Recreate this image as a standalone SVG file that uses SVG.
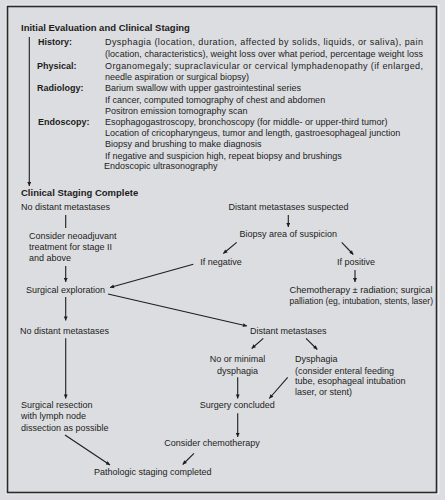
<svg xmlns="http://www.w3.org/2000/svg" width="445" height="500" viewBox="0 0 445 500">
<defs>
<marker id="ah" viewBox="0 0 10 10" refX="10" refY="5" markerWidth="5" markerHeight="4" orient="auto" markerUnits="userSpaceOnUse">
<path d="M0,0 L10,5 L0,10 z" fill="#1e1e1e"/>
</marker>
</defs>
<style>
text{font-family:"Liberation Sans",Arial,Helvetica,sans-serif;font-size:9px;fill:#1c1c1c}
.h{font-weight:bold;font-size:9.5px}
.lb{font-weight:bold;font-size:9px}
.c{text-anchor:middle}
.cn line{stroke:#1e1e1e;stroke-width:1.1}
.ar{marker-end:url(#ah)}
</style>
<rect x="0" y="0" width="445" height="500" fill="#dcdde0"/>
<rect x="6.2" y="5.2" width="432.6" height="488.6" fill="none" stroke="#f4f4f4" stroke-width="1"/>
<rect x="7.5" y="6.5" width="429" height="486" fill="none" stroke="#2a2a2a" stroke-width="1.6"/>

<g id="initial-evaluation">
<text class="h" x="21" y="31">Initial Evaluation and Clinical Staging</text>
<text class="lb" x="38" y="45">History:</text>
<text x="105" y="45" textLength="318" lengthAdjust="spacing">Dysphagia (location, duration, affected by solids, liquids, or saliva), pain</text>
<text x="105" y="56.5" textLength="318" lengthAdjust="spacing">(location, characteristics), weight loss over what period, percentage weight loss</text>
<text class="lb" x="37" y="68.5">Physical:</text>
<text x="105" y="68.5" textLength="318" lengthAdjust="spacing">Organomegaly; supraclavicular or cervical lymphadenopathy (if enlarged,</text>
<text x="105" y="79.5">needle aspiration or surgical biopsy)</text>
<text class="lb" x="37" y="91">Radiology:</text>
<text x="105" y="91">Barium swallow with upper gastrointestinal series</text>
<text x="105" y="102.5">If cancer, computed tomography of chest and abdomen</text>
<text x="105" y="113.5">Positron emission tomography scan</text>
<text class="lb" x="38" y="124.5">Endoscopy:</text>
<text x="105" y="124.5">Esophagogastroscopy, bronchoscopy (for middle- or upper-third tumor)</text>
<text x="105" y="136">Location of cricopharyngeus, tumor and length, gastroesophageal junction</text>
<text x="105" y="147">Biopsy and brushing to make diagnosis</text>
<text x="105" y="158.5">If negative and suspicion high, repeat biopsy and brushings</text>
<text x="104" y="168.5">Endoscopic ultrasonography</text>
</g>

<g id="clinical-staging-complete"><text class="h" x="21" y="196">Clinical Staging Complete</text></g>
<g id="no-distant-metastases-1"><text x="21" y="210">No distant metastases</text></g>
<g id="distant-metastases-suspected"><text class="c" x="288.5" y="210">Distant metastases suspected</text></g>
<g id="consider-neoadjuvant">
<text x="29" y="238.5">Consider neoadjuvant</text>
<text x="29" y="249.5">treatment for stage II</text>
<text x="29" y="260.5">and above</text>
</g>
<g id="biopsy-area"><text class="c" x="288.3" y="237">Biopsy area of suspicion</text></g>
<g id="if-negative"><text class="c" x="221" y="264.5">If negative</text></g>
<g id="if-positive"><text class="c" x="356" y="264.5">If positive</text></g>
<g id="surgical-exploration"><text x="26" y="292.5">Surgical exploration</text></g>
<g id="chemotherapy-palliation">
<text x="289.5" y="293" textLength="143" lengthAdjust="spacingAndGlyphs">Chemotherapy ± radiation; surgical</text>
<text x="289.5" y="304" textLength="143.5" lengthAdjust="spacingAndGlyphs">palliation (eg, intubation, stents, laser)</text>
</g>
<g id="no-distant-metastases-2"><text x="20" y="334">No distant metastases</text></g>
<g id="distant-metastases"><text class="c" x="288.3" y="334">Distant metastases</text></g>
<g id="no-minimal-dysphagia">
<text class="c" x="237.5" y="362">No or minimal</text>
<text class="c" x="237.5" y="373.5">dysphagia</text>
</g>
<g id="dysphagia">
<text x="295" y="362">Dysphagia</text>
<text x="295" y="373.5">(consider enteral feeding</text>
<text x="295" y="384">tube, esophageal intubation</text>
<text x="295" y="394.5">laser, or stent)</text>
</g>
<g id="surgical-resection">
<text x="21" y="408">Surgical resection</text>
<text x="21" y="419">with lymph node</text>
<text x="21" y="430.5">dissection as possible</text>
</g>
<g id="surgery-concluded"><text class="c" x="237.3" y="408">Surgery concluded</text></g>
<g id="consider-chemotherapy"><text class="c" x="212" y="446">Consider chemotherapy</text></g>
<g id="pathologic-staging"><text class="c" x="152.7" y="474.5">Pathologic staging completed</text></g>

<g id="connectors" class="cn">
<line class="ar" x1="29.3" y1="37" x2="29.3" y2="186"/>
<line x1="65.7" y1="215" x2="65.7" y2="228"/>
<line class="ar" x1="288.3" y1="215" x2="288.3" y2="227"/>
<line class="ar" x1="236.7" y1="242.3" x2="223.3" y2="253.5"/>
<line class="ar" x1="341.7" y1="242.3" x2="353.3" y2="254.5"/>
<line class="ar" x1="193.3" y1="264.3" x2="110" y2="287.5"/>
<line class="ar" x1="65.7" y1="266" x2="65.7" y2="282"/>
<line class="ar" x1="355" y1="270" x2="355" y2="282"/>
<line class="ar" x1="108" y1="294" x2="247" y2="326"/>
<line class="ar" x1="65.7" y1="297" x2="65.7" y2="320.5"/>
<line class="ar" x1="263.3" y1="338.3" x2="251.7" y2="348.5"/>
<line class="ar" x1="306" y1="338.3" x2="317.3" y2="349.5"/>
<line class="ar" x1="237.7" y1="377.3" x2="237.7" y2="398.5"/>
<line class="ar" x1="287.7" y1="377.3" x2="269.3" y2="398.5"/>
<line class="ar" x1="65.7" y1="338.3" x2="65.7" y2="398.5"/>
<line class="ar" x1="237.7" y1="413.3" x2="237.7" y2="437"/>
<line class="ar" x1="65" y1="435" x2="110" y2="465"/>
<line class="ar" x1="194" y1="453.3" x2="182.7" y2="464.5"/>
</g>
</svg>
